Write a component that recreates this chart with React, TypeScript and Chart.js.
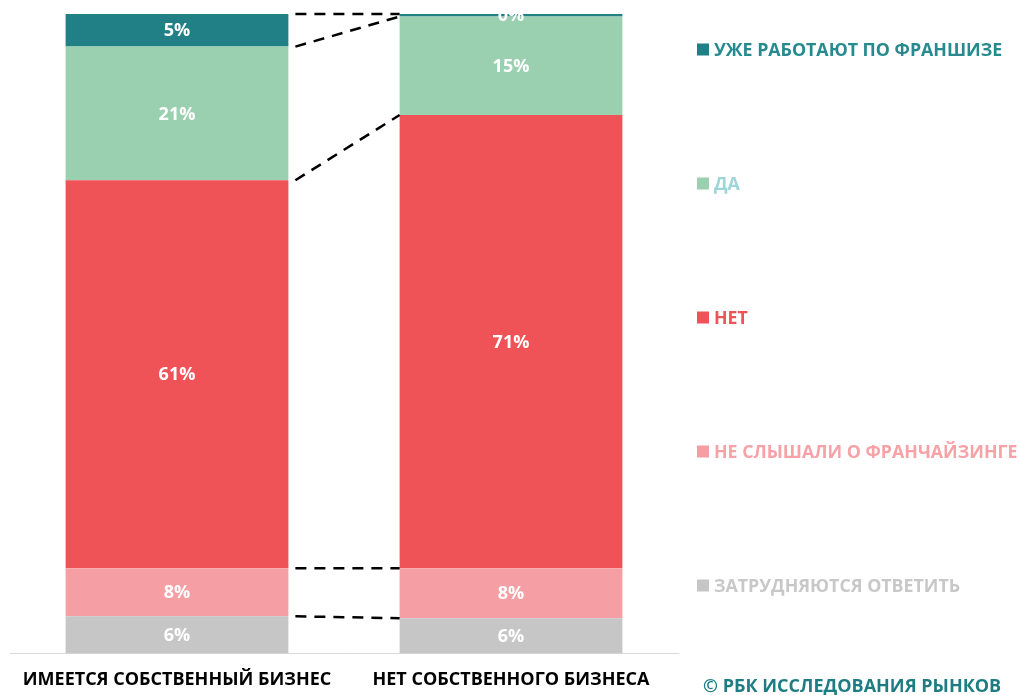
import React, { useEffect, useRef } from "react";
import { Chart, registerables } from "chart.js";

Chart.register(...registerables);

// ---- data ----
const categories = ["ИМЕЕТСЯ СОБСТВЕННЫЙ БИЗНЕС", "НЕТ СОБСТВЕННОГО БИЗНЕСА"];
const seriesNames = [
  "ЗАТРУДНЯЮТСЯ ОТВЕТИТЬ",
  "НЕ СЛЫШАЛИ О ФРАНЧАЙЗИНГЕ",
  "НЕТ",
  "ДА",
  "УЖЕ РАБОТАЮТ ПО ФРАНШИЗЕ",
];
const hardToSay = [5.8, 5.5];
const neverHeard = [7.5, 7.8];
const no = [60.7, 70.9];
const yes = [20.9, 15.4];
const already = [5.1, 0.4];
const seriesValues = [hardToSay, neverHeard, no, yes, already];
const copyright = "© РБК ИССЛЕДОВАНИЯ РЫНКОВ";

// ---- styles ----
const barColors = ["#C6C6C6", "#F59EA3", "#EF5257", "#9AD0B0", "#218086"];
const legendTextColors = ["#C8C8C8", "#F6A2A7", "#EF5257", "#9ED5D8", "#268A8F"];
const FONT = "'Open Sans', 'Noto Sans', sans-serif";

const overlayPlugin = {
  id: "overlay",
  afterDatasetsDraw(chart: any) {
    const ctx = chart.ctx as CanvasRenderingContext2D;
    const area = chart.chartArea;
    const n = chart.data.datasets.length;

    // dashed connectors
    ctx.save();
    ctx.strokeStyle = "#000";
    ctx.lineWidth = 2.5;
    ctx.setLineDash([11, 8]);
    for (let i = 0; i < n; i++) {
      const meta = chart.getDatasetMeta(i);
      const a = meta.data[0] as any;
      const b = meta.data[1] as any;
      ctx.beginPath();
      ctx.moveTo(a.x + a.width / 2 + 7, a.y);
      ctx.lineTo(b.x - b.width / 2, b.y);
      ctx.stroke();
    }
    ctx.restore();

    // value labels (clipped to plot area)
    ctx.save();
    ctx.beginPath();
    ctx.rect(area.left, area.top, area.right - area.left, area.bottom - area.top);
    ctx.clip();
    ctx.fillStyle = "#fff";
    ctx.font = `bold 18px ${FONT}`;
    ctx.textAlign = "center";
    ctx.textBaseline = "middle";
    for (let i = 0; i < n; i++) {
      const meta = chart.getDatasetMeta(i);
      meta.data.forEach((el: any, j: number) => {
        const v = seriesValues[i][j];
        const cy = (el.y + el.base) / 2;
        ctx.fillText(Math.round(v) + "%", el.x, cy + 1);
      });
    }
    ctx.restore();

    // legend (top to bottom = reversed series order)
    ctx.save();
    ctx.font = `bold 17.8px ${FONT}`;
    ctx.textAlign = "left";
    ctx.textBaseline = "middle";
    const legendTop = 49.5;
    const legendStep = 134;
    for (let k = 0; k < n; k++) {
      const i = n - 1 - k;
      const y = legendTop + k * legendStep;
      ctx.fillStyle = barColors[i];
      ctx.fillRect(697, y - 6, 12, 12);
      ctx.fillStyle = legendTextColors[i];
      ctx.fillText(seriesNames[i], 714, y + 1);
    }
    ctx.fillStyle = "#1E7C83";
    ctx.font = `bold 18px ${FONT}`;
    ctx.fillText(copyright, 703, 687);
    ctx.restore();
  },
};

export default function App() {
  const ref = useRef<HTMLCanvasElement>(null);
  useEffect(() => {
    if (!ref.current) return;
    const chart = new Chart(ref.current, {
      type: "bar",
      data: {
        labels: categories,
        datasets: seriesValues.map((vals, i) => ({
          label: seriesNames[i],
          data: vals,
          backgroundColor: barColors[i],
          borderWidth: 0,
          barPercentage: 1,
          categoryPercentage: 0.667,
        })),
      },
      options: {
        responsive: false,
        animation: false,
        layout: { padding: { left: 10, right: 342, top: 14, bottom: -12 } },
        plugins: { legend: { display: false }, tooltip: { enabled: false } },
        scales: {
          x: {
            stacked: true,
            grid: { display: false, drawTicks: false },
            border: { display: true, color: "#D9D9D9", width: 1 },
            ticks: {
              color: "#000",
              font: { family: FONT, weight: "bold", size: 18 },
              padding: 16,
              maxRotation: 0,
              autoSkip: false,
            },
          },
          y: { stacked: true, display: false, min: 0, max: 100 },
        },
      },
      plugins: [overlayPlugin],
    });
    return () => chart.destroy();
  }, []);
  return (
    <div style={{ position: "fixed", left: 0, top: 0, width: 1020, height: 695, background: "#fff" }}>
      <canvas ref={ref} width={1020} height={695} style={{ display: "block" }} />
    </div>
  );
}
